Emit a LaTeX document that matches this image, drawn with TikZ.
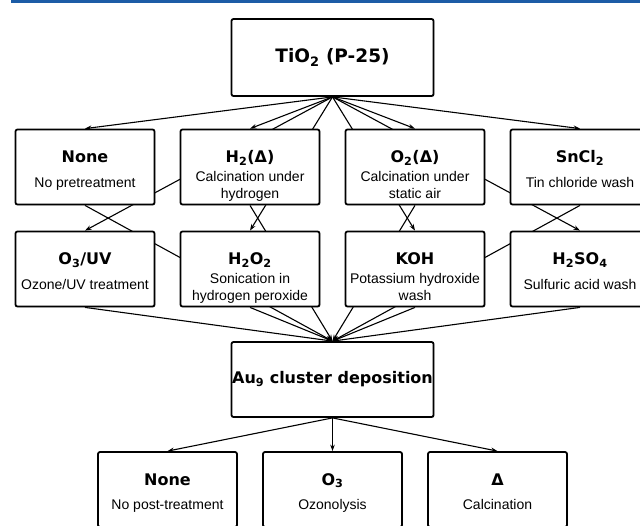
\documentclass[tikz,border=0pt]{standalone}
\usepackage{fontspec}
\setmainfont{Liberation Sans}
\newfontfamily\ttlfont{DejaVu Sans}
\usetikzlibrary{arrows.meta,shadows}
\pgfdeclarelayer{bg}
\pgfsetlayers{bg,main}
\definecolor{topblue}{RGB}{28,92,166}
\tikzset{
  stagebox/.style={draw, line width=1.8pt, fill=white, rounded corners=2pt,
    minimum width=139pt, minimum height=75pt, inner sep=0pt,
    drop shadow={opacity=0.22, shadow xshift=1pt, shadow yshift=-1pt}},
  bigbox/.style={stagebox, minimum width=202pt, minimum height=77pt,
    font=\ttlfont\bfseries\fontsize{16}{19}\selectfont},
  ttl/.style={inner sep=0pt, anchor=base, font=\ttlfont\bfseries\fontsize{16}{19}\selectfont},
  subt/.style={inner sep=0pt, anchor=base, font=\fontsize{14}{17}\selectfont},
  conn/.style={line width=1.1pt, -{Stealth[length=6.5pt,width=4.5pt]}},
}
% #1 name, #2 centre x, #3 top y, #4 title, #5 subtitle
\newcommand\boxone[5]{%
  \node[stagebox] (#1) at (#2,#3+37.5) {};
  \node[ttl] (#1-t) at (#2,#3+33) {#4};
  \node[subt] (#1-s) at (#2,#3+57.5) {#5};
}
% #1 name, #2 centre x, #3 top y, #4 title, #5 line 1, #6 line 2
\newcommand\boxtwo[6]{%
  \node[stagebox] (#1) at (#2,#3+37.5) {};
  \node[ttl] (#1-t) at (#2,#3+33) {#4};
  \node[subt] (#1-s) at (#2,#3+52) {#5};
  \node[subt] (#1-u) at (#2,#3+69) {#6};
}
\begin{document}
\begin{tikzpicture}[x=1pt,y=-1pt]
\useasboundingbox (0,0) rectangle (640,525);
\clip (0,0) rectangle (640,525);
\fill[topblue] (11,0) rectangle (640,2.5);

\node[bigbox, font=\ttlfont\bfseries\fontsize{18.5}{22}\selectfont] (tio) at (332.5,57.5) {TiO\textsubscript{2} (P-25)};

\boxone{r1a}{85}{129.5}{None}{No pretreatment}
\boxtwo{r1b}{250}{129.5}{H\textsubscript{2}(Δ)}{Calcination under}{hydrogen}
\boxtwo{r1c}{415}{129.5}{O\textsubscript{2}(Δ)}{Calcination under}{static air}
\boxone{r1d}{580}{129.5}{SnCl\textsubscript{2}}{Tin chloride wash}

\boxone{r2a}{85}{231.5}{O\textsubscript{3}/UV}{Ozone/UV treatment}
\boxtwo{r2b}{250}{231.5}{H\textsubscript{2}O\textsubscript{2}}{Sonication in}{hydrogen peroxide}
\boxtwo{r2c}{415}{231.5}{KOH}{Potassium hydroxide}{wash}
\boxone{r2d}{580}{231.5}{H\textsubscript{2}SO\textsubscript{4}}{Sulfuric acid wash}

\node[bigbox, minimum height=75pt] (au) at (332.5,379.5) {Au\textsubscript{9} cluster deposition};

\boxone{r3a}{167.5}{452}{None}{No post-treatment}
\boxone{r3b}{332.5}{452}{O\textsubscript{3}}{Ozonolysis}
\boxone{r3c}{497.5}{452}{Δ}{Calcination}

\begin{pgfonlayer}{bg}
  \foreach \n in {r1a,r1b,r1c,r1d,r2a,r2b,r2c,r2d}
    \draw[conn] (tio.south) -- (\n.north);
  \foreach \n in {r1a,r1b,r1c,r1d,r2a,r2b,r2c,r2d}
    \draw[conn] (\n.south) -- (au.north);
  \foreach \n in {r3a,r3b,r3c}
    \draw[conn] (au.south) -- (\n.north);
\end{pgfonlayer}
\end{tikzpicture}
\end{document}
